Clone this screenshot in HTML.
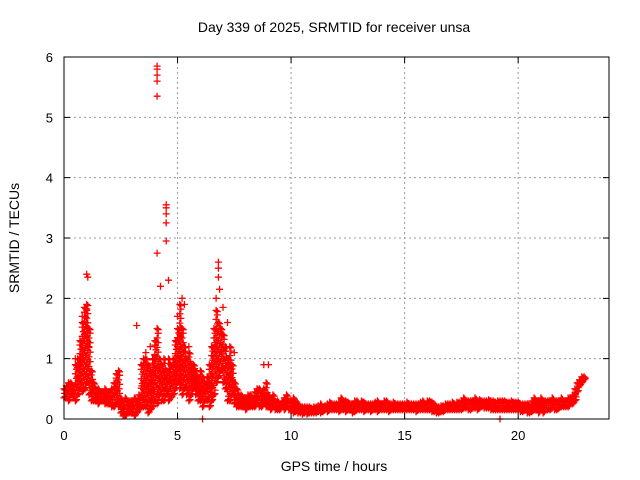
<!DOCTYPE html>
<html><head><meta charset="utf-8"><style>
html,body{margin:0;padding:0;background:#fff}
svg{display:block;font-family:"Liberation Sans",sans-serif}
</style></head><body>
<svg id="chart" width="640" height="480" viewBox="0 0 640 480" xmlns="http://www.w3.org/2000/svg">
<rect width="640" height="480" fill="#fff"/>
<text x="334" y="32" font-size="14" text-anchor="middle">Day 339 of 2025, SRMTID for receiver unsa</text>
<g id="grid"></g>
<g id="marks"></g>
<rect x="64" y="57" width="545" height="362" fill="none" stroke="#000" stroke-width="1"/>
<g id="ticks"></g>
<text x="334" y="471" font-size="14" text-anchor="middle">GPS time / hours</text>
<text transform="translate(19,238) rotate(-90)" font-size="14" text-anchor="middle">SRMTID / TECUs</text>
</svg>
<script>
const xTicks=[0,5,10,15,20];
const yTicks=[0,1,2,3,4,5,6];
const bandStep=0.1;
const bandLo=[.35,.35,.3,.4,.35,.3,.4,.5,.45,.5,
.6,.4,.3,.3,.3,.25,.3,.3,.25,.25,
.25,.2,.2,.25,.2,.1,.05,.05,.1,.1,
.1,.05,.1,.15,.2,.2,.2,.1,.15,.2,
.3,.25,.4,.3,.3,.4,.3,.35,.4,.5,
.6,.5,.4,.5,.4,.3,.4,.5,.4,.3,
.3,.2,.3,.3,.2,.3,.4,.6,.7,.8,
.6,.5,.3,.3,.4,.25,.2,.2,.2,.2,
.15,.2,.2,.2,.2,.25,.2,.2,.25,.2,
.2,.15,.2,.15,.15,.15,.2,.15,.2,.15,
.15,.1,.12,.1,.1,.08,.1,.08,.1,.1,
.1,.1,.12,.1,.12,.15,.12,.15,.15,.15,
.15,.12,.15,.15,.12,.15,.15,.1,.12,.15,
.15,.15,.12,.15,.15,.12,.15,.15,.12,.15,
.15,.15,.15,.12,.15,.15,.15,.15,.15,.15,
.15,.15,.15,.15,.15,.12,.15,.15,.15,.15,
.15,.15,.12,.12,.1,.1,.12,.12,.15,.15,
.15,.15,.15,.15,.15,.15,.18,.18,.15,.15,
.18,.18,.15,.18,.2,.18,.18,.18,.15,.15,
.15,.15,.15,.15,.15,.15,.15,.15,.15,.15,
.15,.12,.12,.15,.1,.1,.12,.15,.15,.1,
.15,.1,.15,.15,.15,.18,.15,.15,.18,.2,
.2,.2,.2,.25,.25,.3,.45,.55,.6,.65];
const bandHi=[.5,.55,.6,.6,.55,.9,1.0,1.3,1.6,1.85,
1.9,1.5,.8,.6,.5,.5,.45,.45,.5,.45,
.45,.5,.6,.75,.8,.35,.3,.35,.3,.3,
.3,.35,.3,.4,.9,1.0,1.0,.9,.8,1.0,
1.3,1.5,1.0,.9,1.0,.8,1.0,.9,1.0,1.3,
1.5,1.9,1.5,1.2,1.0,1.1,.9,.9,.8,.7,
.8,.7,.6,.7,.9,1.2,1.5,1.8,1.6,1.5,
1.4,1.2,1.0,1.2,.9,.6,.5,.4,.4,.35,
.35,.4,.4,.35,.45,.5,.5,.45,.5,.6,
.4,.35,.4,.3,.3,.25,.3,.35,.4,.3,
.3,.35,.3,.25,.2,.2,.2,.2,.2,.18,
.2,.2,.22,.25,.2,.22,.25,.28,.25,.25,
.25,.28,.35,.3,.3,.28,.25,.25,.3,.3,
.25,.3,.28,.25,.25,.25,.25,.28,.3,.25,
.25,.3,.3,.25,.25,.28,.25,.25,.25,.25,
.25,.28,.25,.25,.25,.25,.25,.28,.3,.25,
.3,.3,.28,.25,.2,.2,.22,.22,.25,.25,
.25,.28,.25,.28,.28,.3,.35,.3,.3,.3,
.3,.35,.3,.32,.3,.3,.3,.32,.3,.3,
.28,.3,.3,.3,.3,.28,.28,.3,.28,.28,
.28,.25,.25,.25,.25,.22,.3,.35,.3,.3,
.35,.3,.3,.3,.3,.35,.3,.3,.3,.35,
.3,.3,.35,.35,.4,.5,.6,.65,.7,.7];
const spikeT=[1.0,1.05,0.9,4.1,4.1,4.1,4.1,4.1,4.5,4.5,4.5,4.5,4.5,4.1,4.25,4.6,3.2,5.2,5.3,6.8,6.8,6.8,6.85,7.0,5.0,6.1,8.8,9.0,0.5,0.9,1.1,3.8,4.0,5.5,7.5,19.2,0.8,1.0,6.7,7.2,5.1,3.6];
const spikeV=[2.4,2.35,1.85,5.85,5.8,5.7,5.6,5.35,3.55,3.5,3.4,3.25,2.95,2.75,2.2,2.3,1.55,2.0,1.9,2.6,2.5,2.35,2.15,1.85,1.7,0.0,0.9,0.9,1.0,1.4,1.2,1.2,1.05,1.2,1.1,0.0,1.7,1.8,2.0,1.6,1.4,1.1];

const X0=64,X1=609,Y0=419,Y1=57;
const xs=h=>X0+h/24*(X1-X0);
const ys=v=>Y0-v/6*(Y0-Y1);
const NS='http://www.w3.org/2000/svg';
const grid=document.getElementById('grid'),ticks=document.getElementById('ticks'),marks=document.getElementById('marks');
function mk(tag,attrs,parent){const e=document.createElementNS(NS,tag);for(const k in attrs)e.setAttribute(k,attrs[k]);parent.appendChild(e);return e;}
xTicks.forEach(t=>{const x=xs(t);
 if(t>0){const g=mk('line',{x1:x,x2:x,y1:Y1,y2:Y0,stroke:'#999','stroke-dasharray':'2,3'},grid);
 
 }
 const tk=mk('path',{d:`M${x} ${Y0}v-6M${x} ${Y1}v6`,stroke:'#000'},ticks);
 
 
 const l=mk('text',{x:x,y:Y0+21,'font-size':13,'text-anchor':'middle'},ticks);l.textContent=t;
 
 
});
yTicks.forEach(t=>{const y=ys(t);
 if(t>0&&t<6){const g=mk('line',{x1:X0,x2:X1,y1:y,y2:y,stroke:'#999','stroke-dasharray':'2,3'},grid);
 
 }
 const tk=mk('path',{d:`M${X0} ${y}h6M${X1} ${y}h-6`,stroke:'#000'},ticks);
 
 
 const l=mk('text',{x:X0-11,y:y+5,'font-size':13,'text-anchor':'end'},ticks);l.textContent=t;
 
 
});
let d='';
const plus=(h,v)=>{const x=xs(h),y=ys(v);d+=`M${(x-3.5).toFixed(1)} ${y.toFixed(1)}h7M${x.toFixed(1)} ${(y-3.5).toFixed(1)}v7`;};
bandLo.forEach((lo,i)=>{const h=i*bandStep,hi=bandHi[i];
 plus(h,lo);plus(h,hi);
 plus(h+0.05,lo+0.02);plus(h+0.05,hi-0.02);
 const n=Math.max(0,Math.floor((hi-lo)/0.08));
 for(let k=1;k<=n;k++)plus(h+0.05*(k%2),lo+(hi-lo)*k/(n+1));
 plus(h+0.025,(lo+hi)/2);
});
spikeT.forEach((t,i)=>plus(t,spikeV[i]));
const p=mk('path',{d:d,stroke:'#f00','stroke-width':1.3,fill:'none'},marks);


</script>
</body></html>
